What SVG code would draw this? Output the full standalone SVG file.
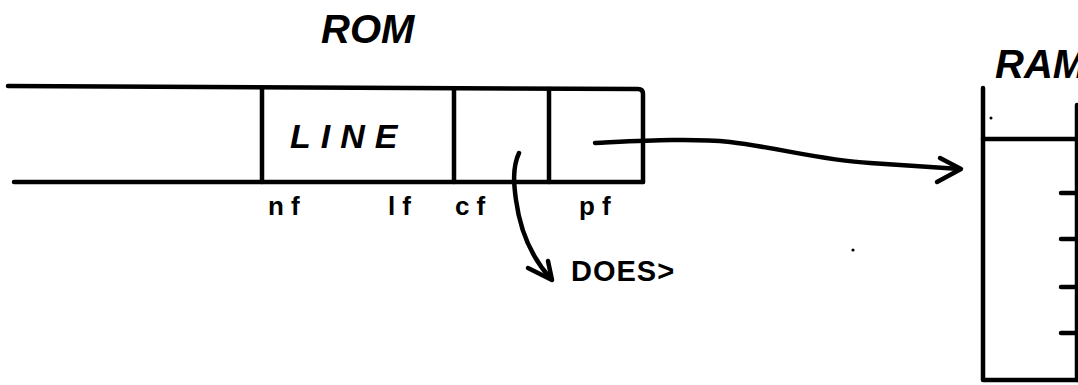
<svg xmlns="http://www.w3.org/2000/svg" width="1078" height="385" viewBox="0 0 1078 385">
  <style>
    .ink { fill: none; stroke: #000; stroke-width: 4.5; stroke-linecap: round; stroke-linejoin: round; }
    .title { font-family: "Liberation Sans", Arial, sans-serif; font-weight: bold; font-style: italic; font-size: 40px; fill: #000; }
    .cell { font-family: "Liberation Sans", Arial, sans-serif; font-weight: bold; font-style: italic; font-size: 34px; letter-spacing: 10px; fill: #000; }
    .field { font-family: "Liberation Sans", Arial, sans-serif; font-weight: bold; font-size: 26px; letter-spacing: 7px; fill: #000; }
    .note { font-family: "Liberation Sans", Arial, sans-serif; font-weight: bold; font-size: 29px; letter-spacing: 1px; fill: #000; }
  </style>
  <rect width="1078" height="385" fill="#fff"/>

  <!-- ROM word header -->
  <g id="rom">
    <text class="title" x="321" y="43">ROM</text>
    <path class="ink" d="M8,86 L638,89 Q643,89 643,94 L643,182"/>
    <path class="ink" d="M14,182 L643,182"/>
    <path class="ink" d="M262,89 L262,182"/>
    <path class="ink" d="M454,89 L454,182"/>
    <path class="ink" d="M549,89 L549,182"/>
    <text class="cell" x="290" y="148">LINE</text>
  </g>

  <!-- field names under the header -->
  <g id="fields">
    <text class="field" x="268" y="215">nf</text>
    <text class="field" x="388" y="215">lf</text>
    <text class="field" x="455" y="215">cf</text>
    <text class="field" x="579" y="215">pf</text>
  </g>

  <g id="does">
    <text class="note" x="571" y="281">DOES&gt;</text>
  </g>

  <!-- RAM parameter area, running off the right edge -->
  <g id="ram">
    <text class="title" x="995" y="78">RAM</text>
    <path class="ink" d="M983,88 L983,380 L1078,380"/>
    <path class="ink" d="M983,139 L1078,139"/>
    <path class="ink" d="M1077,105 L1077,380"/>
    <path class="ink" d="M1061,193 L1078,193"/>
    <path class="ink" d="M1061,239 L1078,239"/>
    <path class="ink" d="M1061,287 L1078,287"/>
    <path class="ink" d="M1061,333 L1078,333"/>
    <circle cx="991" cy="118" r="1.5" fill="#000"/>
  </g>

  <circle cx="853" cy="250" r="1.6" fill="#000"/>

  <g id="connectors">
    <!-- code field to DOES> -->
    <path class="ink" d="M519,153 C512,168 514,186 516,200 C520,230 532,258 551,279"/>
    <path class="ink" d="M528,268 L552,280 L548,261"/>
    <!-- parameter field to RAM -->
    <path class="ink" d="M595,143 C640,141 690,138 730,142 C780,148 820,160 870,163 C900,165 930,167 960,169"/>
    <path class="ink" d="M940,158 L961,169 L937,182"/>
  </g>
</svg>
